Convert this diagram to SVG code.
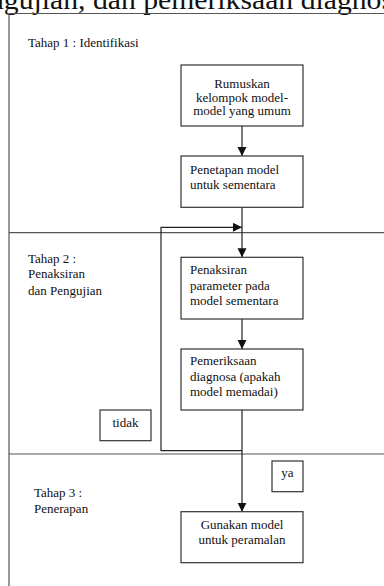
<svg xmlns="http://www.w3.org/2000/svg" width="384" height="586" viewBox="0 0 384 586">
<style>
text{font-family:"Liberation Serif","Times New Roman",serif;font-size:13px;fill:#111}
.c{text-anchor:middle}
.box{fill:#fff;stroke:#333;stroke-width:1.2}
.frame{fill:none;stroke:#555;stroke-width:1.2}
.conn{fill:none;stroke:#222;stroke-width:1.2}
</style>
<defs>
<marker id="arr" markerUnits="userSpaceOnUse" markerWidth="10" markerHeight="10" refX="9" refY="4.5" orient="auto">
<path d="M0,0 L9,4.5 L0,9 Z" fill="#111"/>
</marker>
</defs>
<rect width="384" height="586" fill="#fff"/>
<text x="-11" y="9" style="font-size:27px" textLength="404" lengthAdjust="spacingAndGlyphs">ngujian, dan pemeriksaan diagnos</text>
<g id="frame">
<path class="frame" d="M9,586 V13.5 H384"/>
<line class="frame" x1="9" y1="232.7" x2="384" y2="232.7"/>
<line class="frame" x1="9" y1="454" x2="384" y2="454"/>
<text x="28" y="46.7">Tahap 1 : Identifikasi</text>
<text x="28" y="262.7">Tahap 2 :</text>
<text x="28" y="278.3">Penaksiran</text>
<text x="28" y="295">dan Pengujian</text>
<text x="34" y="496.7">Tahap 3 :</text>
<text x="34" y="512.7">Penerapan</text>
</g>
<g id="connectors">
<line class="conn" x1="242" y1="126" x2="242" y2="156" marker-end="url(#arr)"/>
<line class="conn" x1="242" y1="207.3" x2="242" y2="257.3" marker-end="url(#arr)"/>
<path class="conn" d="M242,450.7 H161 V227.3 H242" marker-end="url(#arr)"/>
<line class="conn" x1="242" y1="319" x2="242" y2="349" marker-end="url(#arr)"/>
<line class="conn" x1="242" y1="410" x2="242" y2="511.7" marker-end="url(#arr)"/>
</g>
<g id="n1">
<rect class="box" x="181" y="65" width="122" height="61"/>
<text class="c" x="242" y="88">Rumuskan</text>
<text class="c" x="242" y="101.5">kelompok model-</text>
<text class="c" x="242" y="115">model yang umum</text>
</g>
<g id="n2">
<rect class="box" x="181" y="156" width="122" height="51.3"/>
<text x="190" y="174">Penetapan model</text>
<text x="190" y="188.5">untuk sementara</text>
</g>
<g id="n3">
<rect class="box" x="181" y="257.3" width="122" height="61.7"/>
<text x="190" y="274">Penaksiran</text>
<text x="190" y="289.5">parameter pada</text>
<text x="190" y="305">model sementara</text>
</g>
<g id="n4">
<rect class="box" x="181" y="349" width="122" height="61"/>
<text x="190" y="365">Pemeriksaan</text>
<text x="190" y="380.5">diagnosa (apakah</text>
<text x="190" y="396">model memadai)</text>
</g>
<g id="n5">
<rect class="box" x="181" y="511.7" width="122" height="51"/>
<text class="c" x="242" y="529">Gunakan model</text>
<text class="c" x="242" y="543.5">untuk peramalan</text>
</g>
<g id="tidak">
<rect class="box" x="100" y="410" width="51" height="30.7"/>
<text class="c" x="125.5" y="427">tidak</text>
</g>
<g id="ya">
<rect class="box" x="272" y="461" width="31" height="30.7"/>
<text class="c" x="287.5" y="476.7">ya</text>
</g>
</svg>
